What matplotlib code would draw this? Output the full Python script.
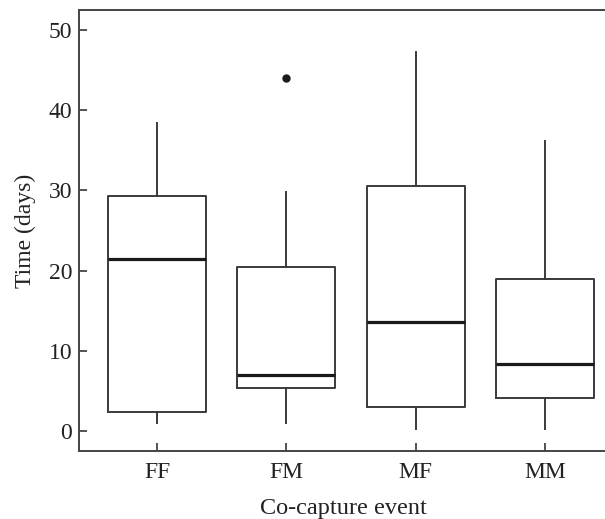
import matplotlib
matplotlib.use("Agg")
import matplotlib.pyplot as plt

# values
events = ["FF", "FM", "MF", "MM"]
whisker_low = [1.0, 1.0, 0.2, 0.2]
q1 = [2.4, 5.3, 3.0, 4.1]
median = [21.5, 7.0, 13.6, 8.3]
q3 = [29.3, 20.5, 30.5, 18.9]
whisker_high = [38.4, 29.8, 47.2, 36.1]
outliers = [[], [44.0], [], []]

plt.rcParams['font.family'] = ['Liberation Serif', 'DejaVu Serif']

stats = []
for i, name in enumerate(events):
    stats.append(dict(label=name, whislo=whisker_low[i], q1=q1[i], med=median[i],
                      q3=q3[i], whishi=whisker_high[i], fliers=outliers[i]))

fig = plt.figure(figsize=(6.05, 5.19), dpi=100)
ax = fig.add_axes([79/605, 68/519, 544/605, 441/519])

line_col = '#3a3a3a'
ax.bxp(stats, positions=[1, 2, 3, 4], widths=0.76, showcaps=False,
       boxprops=dict(color=line_col, linewidth=1.4),
       whiskerprops=dict(color=line_col, linewidth=1.4),
       medianprops=dict(color='#1a1a1a', linewidth=2.3),
       flierprops=dict(marker='o', markerfacecolor='#1a1a1a', markeredgecolor='#1a1a1a',
                       markersize=5))

ax.set_xlim(0.395, 4.605)
ax.set_ylim(-2.5, 52.5)
ax.set_yticks([0, 10, 20, 30, 40, 50])

for sp in ax.spines.values():
    sp.set_color('#444444')
    sp.set_linewidth(1.4)

ax.tick_params(direction='in', length=6, width=1.3, color='#444444',
               labelsize=17, labelcolor='#222222')
ax.tick_params(axis='x', pad=8)
ax.tick_params(axis='y', pad=5)

ax.set_xlabel('Co-capture event', fontsize=17.5, color='#222222', labelpad=11)
ax.xaxis.label.set_x(0.487)
ax.set_ylabel('Time (days)', fontsize=17, color='#222222', labelpad=9)

fig.savefig('out.png', dpi=100)
